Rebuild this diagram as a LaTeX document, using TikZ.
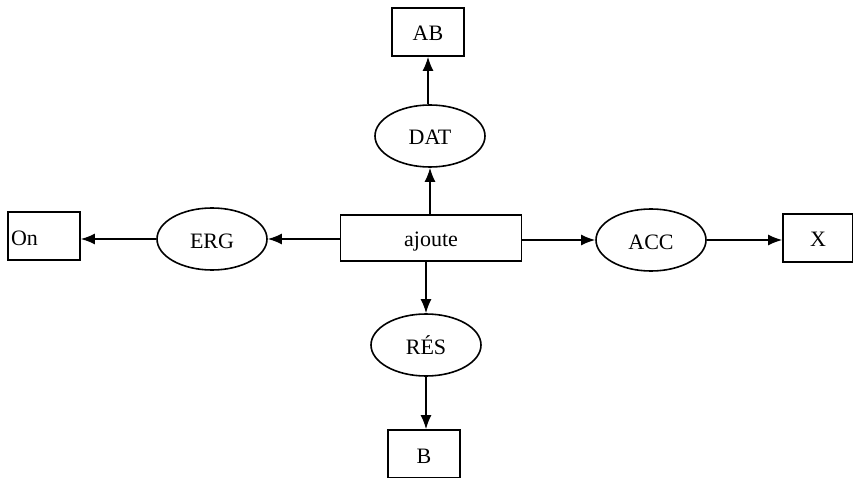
\documentclass[tikz,border=0pt]{standalone}
\usepackage{fontspec}
\setmainfont{Liberation Serif}
\usetikzlibrary{shapes.geometric,arrows.meta}
\begin{document}
\begin{tikzpicture}[x=1pt, y=-1pt, line width=1.6pt,
    font=\fontsize{22}{26}\selectfont,
    every node/.style={text height=18pt, text depth=0pt},
    box/.style={draw, rectangle, minimum width=72pt, minimum height=48pt, inner sep=0pt},
    rel/.style={draw, ellipse, minimum width=110pt, minimum height=62pt, inner sep=0pt},
    link/.style={-{Latex[length=14pt,width=11pt]}}]
    \useasboundingbox (0,0) rectangle (853,478);

    % Verb in the middle
    \node[box, minimum width=181pt, minimum height=46pt] (ajoute) at (431,238) {ajoute};

    % Relations
    \node[rel] (dat) at (430,136) {DAT};
    \node[rel] (erg) at (212,239) {ERG};
    \node[rel] (acc) at (651,240) {ACC};
    \node[rel] (res) at (426,345) {RÉS};

    % Arguments
    \node[box] (ab) at (428,32) {AB};
    \node[box, text width=66pt, align=left, inner sep=3pt] (on) at (44,236) {On};
    \node[box, minimum width=70pt] (x) at (818,238) {X};
    \node[box] (b) at (424,454) {B};

    % Links
    \draw[link] (ajoute.north -| dat.south) -- (dat.south);
    \draw[link] (dat.north -| ab.south) -- (ab.south);
    \draw[link] (ajoute.west |- erg.east) -- (erg.east);
    \draw[link] (erg.west) -- (on.east |- erg.west);
    \draw[link] (ajoute.east |- acc.west) -- (acc.west);
    \draw[link] (acc.east) -- (x.west |- acc.east);
    \draw[link] (ajoute.south -| res.north) -- (res.north);
    \draw[link] (res.south) -- (b.north -| res.south);
\end{tikzpicture}
\end{document}
